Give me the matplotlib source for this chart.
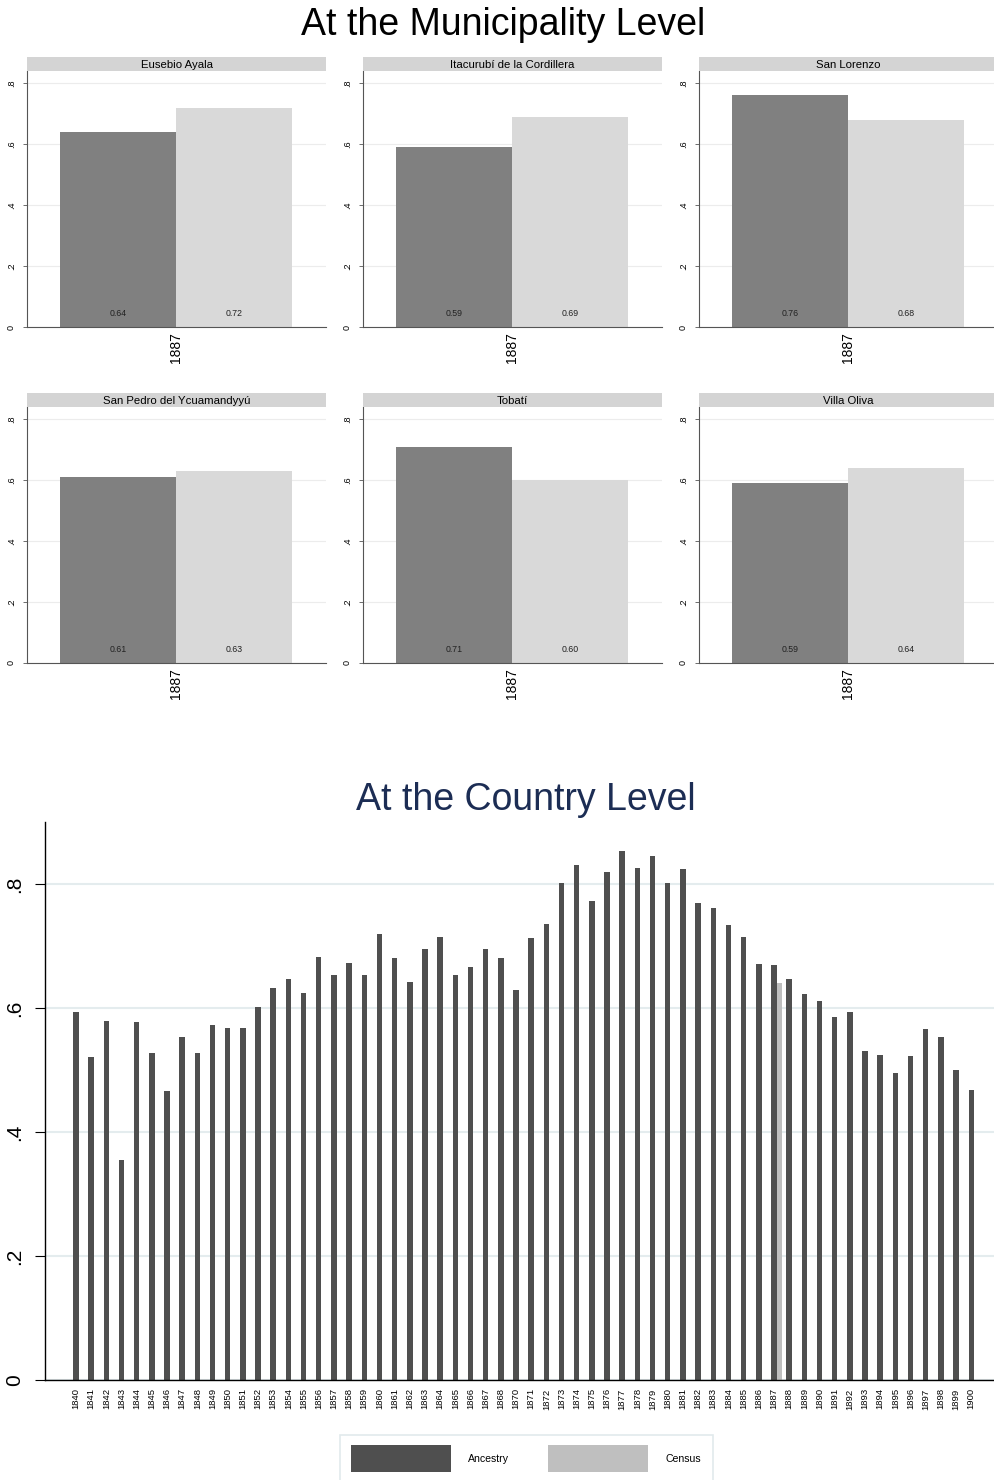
import matplotlib
matplotlib.use('Agg')
import matplotlib.pyplot as plt
from matplotlib.patches import Rectangle

plt.rcParams['font.family'] = ['Liberation Sans', 'DejaVu Sans']

W, H = 994, 1480

# 市级数据（1887）
municipalities = ['Eusebio Ayala', 'Itacurubí de la Cordillera', 'San Lorenzo',
                  'San Pedro del Ycuamandyyú', 'Tobatí', 'Villa Oliva']
muni_ancestry = [0.64, 0.59, 0.76, 0.61, 0.71, 0.59]
muni_census = [0.72, 0.69, 0.68, 0.63, 0.60, 0.64]
muni_year = '1887'

# 全国数据
years = ['1840', '1841', '1842', '1843', '1844', '1845', '1846', '1847', '1848', '1849',
         '1850', '1851', '1852', '1853', '1854', '1855', '1856', '1857', '1858', '1859',
         '1860', '1861', '1862', '1863', '1864', '1865', '1866', '1867', '1868',
         '1870', '1871', '1872', '1873', '1874', '1875', '1876', '1877', '1878', '1879',
         '1880', '1881', '1882', '1883', '1884', '1885', '1886', '1887', '1888', '1889',
         '1890', '1891', '1892', '1893', '1894', '1895', '1896', '1897', '1898', '1899',
         '1900']
ancestry = [0.593, 0.521, 0.579, 0.355, 0.578, 0.528, 0.466, 0.554, 0.528, 0.572,
            0.568, 0.568, 0.602, 0.633, 0.647, 0.624, 0.683, 0.654, 0.673, 0.653,
            0.720, 0.680, 0.642, 0.695, 0.715, 0.653, 0.666, 0.695, 0.681,
            0.629, 0.713, 0.736, 0.801, 0.831, 0.772, 0.820, 0.854, 0.826, 0.845,
            0.802, 0.824, 0.769, 0.761, 0.734, 0.714, 0.671, 0.669, 0.647, 0.622,
            0.612, 0.586, 0.593, 0.531, 0.524, 0.495, 0.522, 0.566, 0.553, 0.500,
            0.468]
census_years = ['1887']
census = [0.641]


def box(x0, y0, x1, y1):
    """像素坐标 -> figure 坐标"""
    return [x0 / W, 1 - y1 / H, (x1 - x0) / W, (y1 - y0) / H]


fig = plt.figure(figsize=(W / 100, H / 100), dpi=100)

fig.text(503 / W, 1 - 25 / H, 'At the Municipality Level', ha='center', va='center',
         fontsize=27, color='black')

# --- 市级小图 ---
col_x = [(27, 326), (363, 662), (699, 998)]
row_y = [(71, 327), (407, 663)]
for k, name in enumerate(municipalities):
    r, c = divmod(k, 3)
    x0, x1 = col_x[c]
    y0, y1 = row_y[r]
    ax = fig.add_axes(box(x0, y0, x1, y1))
    vals = [muni_ancestry[k], muni_census[k]]
    ax.bar([0, 1], vals, width=1.0, color=['#808080', '#d9d9d9'], linewidth=0, zorder=2)
    for xi, v in zip([0, 1], vals):
        ax.text(xi, 0.044, f'{v:.2f}', ha='center', va='center', fontsize=6.3, color='#222222')
    ax.set_xlim(-0.784, 1.793)
    ax.set_ylim(0, 0.84)
    ax.set_yticks([0, 0.2, 0.4, 0.6, 0.8])
    ax.set_yticklabels(['0', '.2', '.4', '.6', '.8'], rotation=90, va='center', fontsize=6.5)
    ax.set_xticks([0.5])
    ax.set_xticklabels([muni_year], rotation=90, fontsize=10)
    ax.tick_params(axis='x', length=0, pad=4)
    ax.tick_params(axis='y', length=3, width=0.6, color='#555555', pad=5)
    ax.grid(axis='y', color='#ececec', linewidth=0.8, zorder=0)
    for s in ['top', 'right']:
        ax.spines[s].set_visible(False)
    ax.spines['left'].set_color('#555555')
    ax.spines['bottom'].set_color('#555555')
    ax.spines['left'].set_linewidth(0.8)
    ax.spines['bottom'].set_linewidth(0.8)
    # 标题条
    sax = fig.add_axes(box(x0, y0 - 14, x1, y0))
    sax.set_facecolor('#d4d4d4')
    sax.set_xticks([])
    sax.set_yticks([])
    for s in sax.spines.values():
        s.set_visible(False)
    sax.text(0.5, 0.45, name, ha='center', va='center', fontsize=8.2, transform=sax.transAxes)

# --- 全国 ---
fig.text(526 / W, 1 - 800 / H, 'At the Country Level', ha='center', va='center',
         fontsize=27, color='#1c2d54')

ax = fig.add_axes(box(45, 822, 994, 1380))
xpos = list(range(len(years)))
bw = 0.36
ax.bar(xpos, ancestry, width=bw, color='#4f4f4f', linewidth=0, zorder=2)
cx = [years.index(y) + bw for y in census_years]
ax.bar(cx, census, width=bw, color='#bfbfbf', linewidth=0, zorder=2)
ax.set_xlim(-2.04, 60.5)
ax.set_ylim(0, 0.9)
ax.set_yticks([0, 0.2, 0.4, 0.6, 0.8])
ax.set_yticklabels(['0', '.2', '.4', '.6', '.8'], rotation=90, va='center', fontsize=15)
ax.set_xticks(xpos)
ax.set_xticklabels(years, rotation=90, fontsize=6.8)
ax.tick_params(axis='x', length=0, pad=6)
ax.tick_params(axis='y', length=7, width=0.8, pad=8)
ax.grid(axis='y', color='#e4ecee', linewidth=1.5, zorder=0)
for s in ['top', 'right']:
    ax.spines[s].set_visible(False)
ax.spines['left'].set_linewidth(1.0)
ax.spines['bottom'].set_linewidth(1.0)

# --- 图例 ---
lax = fig.add_axes(box(340, 1434, 713, 1490))
lax.set_xlim(340, 713)
lax.set_ylim(1490, 1434)
lax.axis('off')
lax.add_patch(Rectangle((340.5, 1434.5), 372, 70, facecolor='white', edgecolor='#e2eaec',
                        linewidth=1.2, clip_on=False))
lax.add_patch(Rectangle((351, 1445), 100, 27, facecolor='#4f4f4f', edgecolor='none'))
lax.text(468, 1459, 'Ancestry', va='center', ha='left', fontsize=7.6)
lax.add_patch(Rectangle((548, 1445), 100, 27, facecolor='#bfbfbf', edgecolor='none'))
lax.text(665, 1459, 'Census', va='center', ha='left', fontsize=7.6)

fig.savefig('out.png', dpi=100)
